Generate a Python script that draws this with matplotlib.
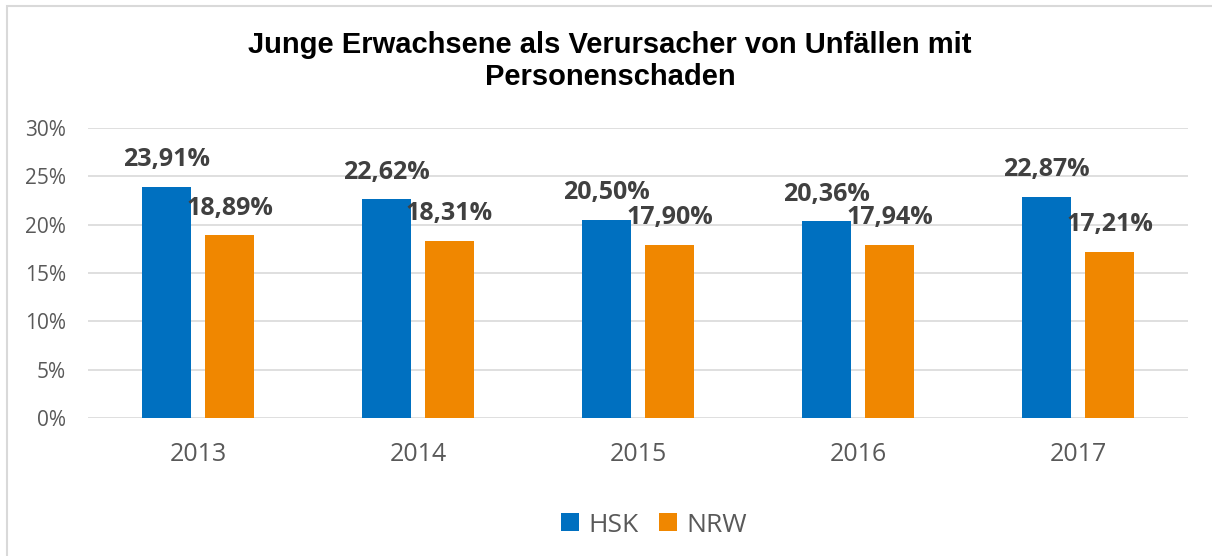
import numpy as np
import matplotlib.pyplot as plt
from matplotlib.patches import Rectangle

# Daten
jahre = ['2013', '2014', '2015', '2016', '2017']
hsk = [23.91, 22.62, 20.50, 20.36, 22.87]
nrw = [18.89, 18.31, 17.90, 17.94, 17.21]

blau = '#0070c0'
orange = '#f08700'
grau = '#595959'

fig = plt.figure(figsize=(12.12, 5.56), dpi=100)
ax = fig.add_axes([88/1212, 1 - 418/556, 1100/1212, 290/556])

x = np.arange(len(jahre))
w = 0.223
off = 0.143
b1 = ax.bar(x - off, hsk, w, color=blau, label='HSK', zorder=3)
b2 = ax.bar(x + off, nrw, w, color=orange, label='NRW', zorder=3)

for bars, vals in ((b1, hsk), (b2, nrw)):
    for b, v in zip(bars, vals):
        ax.annotate(f'{v:.2f}%'.replace('.', ','),
                    (b.get_x() + b.get_width() / 2, v),
                    xytext=(0, 19.5), textcoords='offset points',
                    ha='center', va='center', fontsize=18, fontweight='bold',
                    color='#404040', family='Open Sans')

ax.set_xlim(-0.5, len(jahre) - 0.5)
ax.set_ylim(0, 30)
ax.set_yticks(range(0, 31, 5))
ax.set_yticklabels([f'{t}%' for t in range(0, 31, 5)], fontsize=15, color=grau, family='Open Sans')
ax.set_xticks(x)
ax.set_xticklabels(jahre, fontsize=18, color=grau, family='Open Sans')
ax.tick_params(length=0)
ax.tick_params(axis='x', pad=17)
ax.tick_params(axis='y', pad=16)
ax.grid(axis='y', color='#d9d9d9', linewidth=1.2, zorder=0)
for s in ax.spines.values():
    s.set_visible(False)

fig.text(610/1212, 1 - 61/556, 'Junge Erwachsene als Verursacher von Unfällen mit\nPersonenschaden',
         ha='center', va='center', fontsize=21, fontweight='bold',
         family='Liberation Sans', linespacing=1.15)

leg = fig.legend(handles=[b1, b2], loc='center', bbox_to_anchor=(654/1212, 1 - 525/556),
                 ncol=2, frameon=False, handlelength=0.68, handleheight=0.68,
                 handletextpad=0.35, columnspacing=0.75, prop={'family': 'Open Sans', 'size': 19})
for t in leg.get_texts():
    t.set_color(grau)

# Rahmen
fig.patches.append(Rectangle((7/1212, -0.1), 1.2, 1 - 6/556 + 0.1, transform=fig.transFigure,
                             fill=False, edgecolor='#d9d9d9', linewidth=1.5))

fig.savefig('out.png', dpi=100, facecolor='white')
